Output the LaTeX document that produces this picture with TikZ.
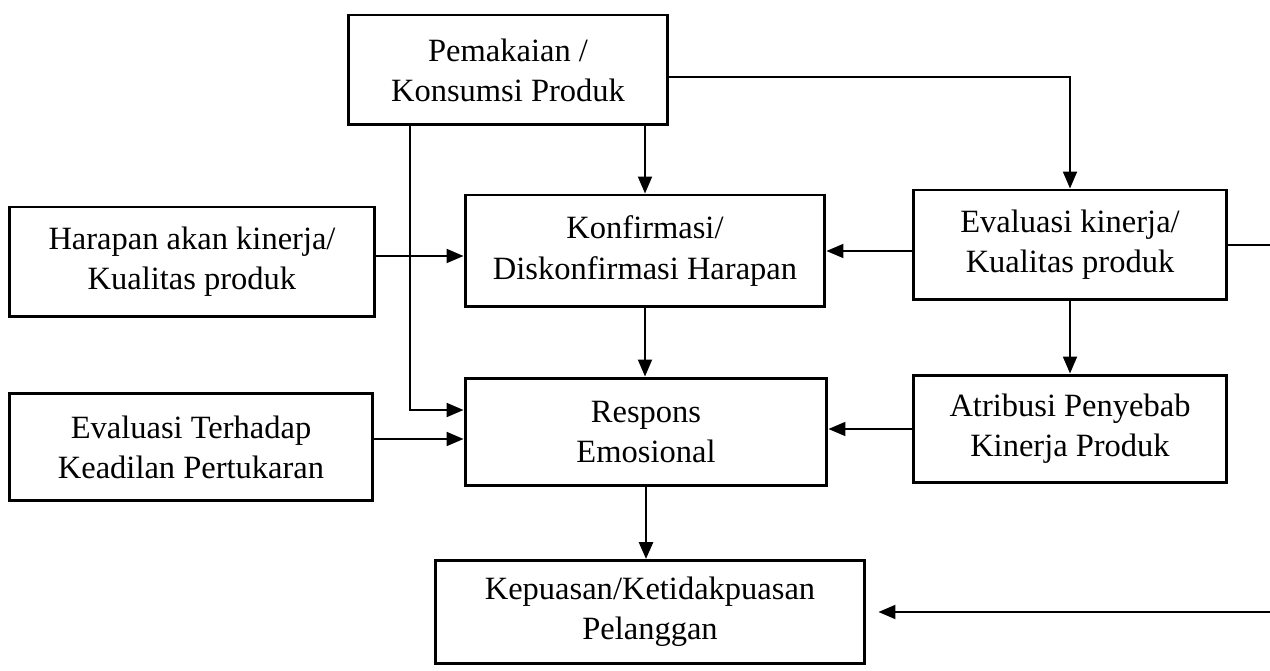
\documentclass[tikz,border=0pt]{standalone}
\usepackage{fontspec}
\setmainfont{Liberation Serif}
\usetikzlibrary{arrows.meta}
\tikzset{
  box/.style={draw,line width=1.7pt,align=center,inner sep=0pt,
    minimum height=2.2cm},
  flow/.style={-{Triangle[length=3.4mm,width=2.8mm]},line width=1.1pt},
  boldflow/.style={flow,line width=1.6pt}
}

\begin{document}
\begin{tikzpicture}[x=0.02cm,y=-0.02cm,font=\fontsize{18.5}{22.8}\selectfont]
  \useasboundingbox (0,0) rectangle (1270,671);
  \node[box,minimum width=6.4cm] (pem) at (508,70) {Pemakaian /\\Konsumsi Produk};
  \node[box,minimum width=7.3cm] (har) at (192,262) {Harapan akan kinerja/\\Kualitas produk};
  \node[box,minimum width=7.2cm,minimum height=2.24cm] (kon) at (645,251)
    {Konfirmasi/\\Diskonfirmasi Harapan};
  \node[box,minimum width=6.28cm] (evk) at (1070,245) {Evaluasi kinerja/\\Kualitas produk};
  \node[box,minimum width=7.26cm,minimum height=2.14cm] (evt) at (191,447)
    {Evaluasi Terhadap\\Keadilan Pertukaran};
  \node[box,minimum width=7.24cm,minimum height=2.16cm] (res) at (646,432)
    {Respons\\Emosional};
  \node[box,minimum width=6.28cm,minimum height=2.16cm] (atr) at (1070,429)
    {Atribusi Penyebab\\Kinerja Produk};
  \node[box,minimum width=8.6cm,minimum height=2.06cm] (kep) at (650,612)
    {Kepuasan/Ketidakpuasan\\Pelanggan};
  \coordinate (lx) at (410,0);
  \coordinate (rx) at (1290,0);

  \draw[flow] (pem.south -| kon.north) -- (kon.north);
  \draw[flow] ([yshift=-0.14cm]pem.east) -| (evk.north);
  \draw[flow] (pem.south -| lx) |- ([yshift=0.44cm]res.west);
  \draw[flow] ([yshift=0.12cm]har.east) -- ([yshift=-0.1cm]kon.west);
  \draw[flow] (evk.west |- kon.east) -- (kon.east);
  \draw[flow] (kon.south) -- (kon.south |- res.north);
  \draw[flow] (evk.south) -- (atr.north);
  \draw[flow] (atr.west) -- (atr.west -| res.east);
  \draw[flow] ([yshift=0.16cm]evt.east) -- ([yshift=-0.14cm]res.west);
  \draw[boldflow] (res.south) -- (res.south |- kep.north);
  % loop back from evaluation, its vertical part lies past the page edge
  \draw[flow] (evk.east) -- (evk.east -| rx) -- (kep.east -| rx)
    -- ([xshift=0.24cm]kep.east);
\end{tikzpicture}
\end{document}
